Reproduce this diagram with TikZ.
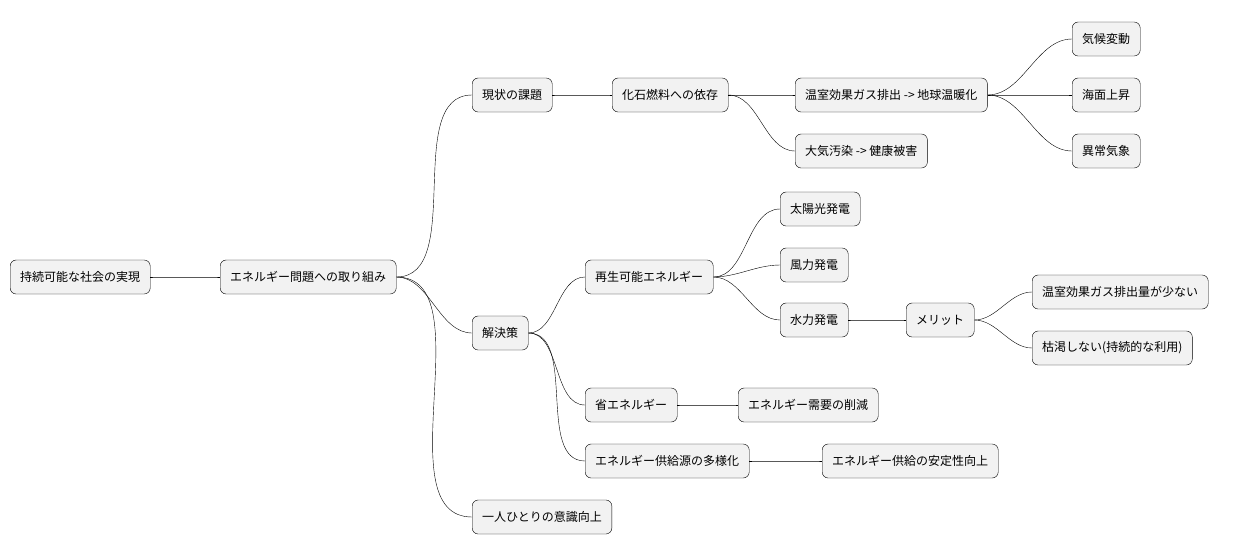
\documentclass[tikz,border=0pt]{standalone}
\usepackage{fontspec}
\setmainfont{Noto Sans CJK JP}
\usetikzlibrary{positioning}
\tikzset{
  topic/.style={rectangle, rounded corners=6pt, draw=black, fill=gray!10, minimum height=34pt, inner xsep=10pt, anchor=west, font=\fontsize{12}{14}\selectfont},
  link/.style={draw=black, line width=0.6pt, out=0, in=180, looseness=0.9}
}
\begin{document}
\begin{tikzpicture}[x=1pt, y=-1pt]
\useasboundingbox (0,0) rectangle (1244,555);

\node (root) [topic] at (10,277) {持続可能な社会の実現};
\node (main) [topic] at (220,277) {エネルギー問題への取り組み};

\node (now) [topic] at (472,95) {現状の課題};
\node (fossil) [topic] at (612,95) {化石燃料への依存};
\node (ghg) [topic] at (795,95) {温室効果ガス排出 -> 地球温暖化};
\node (climate) [topic] at (1072,39) {気候変動};
\node (sea) [topic] at (1072,95) {海面上昇};
\node (weather) [topic] at (1072,151) {異常気象};
\node (air) [topic] at (795,151) {大気汚染 -> 健康被害};

\node (plan) [topic] at (472,333) {解決策};
\node (renew) [topic] at (585,277) {再生可能エネルギー};
\node (solar) [topic] at (780,209) {太陽光発電};
\node (wind) [topic] at (780,265) {風力発電};
\node (hydro) [topic] at (780,320) {水力発電};
\node (merit) [topic] at (906,320) {メリット};
\node (low) [topic] at (1032,292) {温室効果ガス排出量が少ない};
\node (lasting) [topic] at (1032,348) {枯渇しない(持続的な利用)};
\node (save) [topic] at (585,405) {省エネルギー};
\node (demand) [topic] at (738,405) {エネルギー需要の削減};
\node (mix) [topic] at (585,461) {エネルギー供給源の多様化};
\node (stable) [topic] at (822,461) {エネルギー供給の安定性向上};

\node (mind) [topic] at (472,517) {一人ひとりの意識向上};

% branches
\draw (root.east) to[link] (main.west);
\draw (main.east) to[link] (now.west);
\draw (main.east) to[link] (plan.west);
\draw (main.east) to[link] (mind.west);
\draw (now.east) to[link] (fossil.west);
\draw (fossil.east) to[link] (ghg.west);
\draw (fossil.east) to[link] (air.west);
\draw (ghg.east) to[link] (climate.west);
\draw (ghg.east) to[link] (sea.west);
\draw (ghg.east) to[link] (weather.west);
\draw (plan.east) to[link] (renew.west);
\draw (plan.east) to[link] (save.west);
\draw (plan.east) to[link] (mix.west);
\draw (renew.east) to[link] (solar.west);
\draw (renew.east) to[link] (wind.west);
\draw (renew.east) to[link] (hydro.west);
\draw (hydro.east) to[link] (merit.west);
\draw (merit.east) to[link] (low.west);
\draw (merit.east) to[link] (lasting.west);
\draw (save.east) to[link] (demand.west);
\draw (mix.east) to[link] (stable.west);

\end{tikzpicture}
\end{document}
